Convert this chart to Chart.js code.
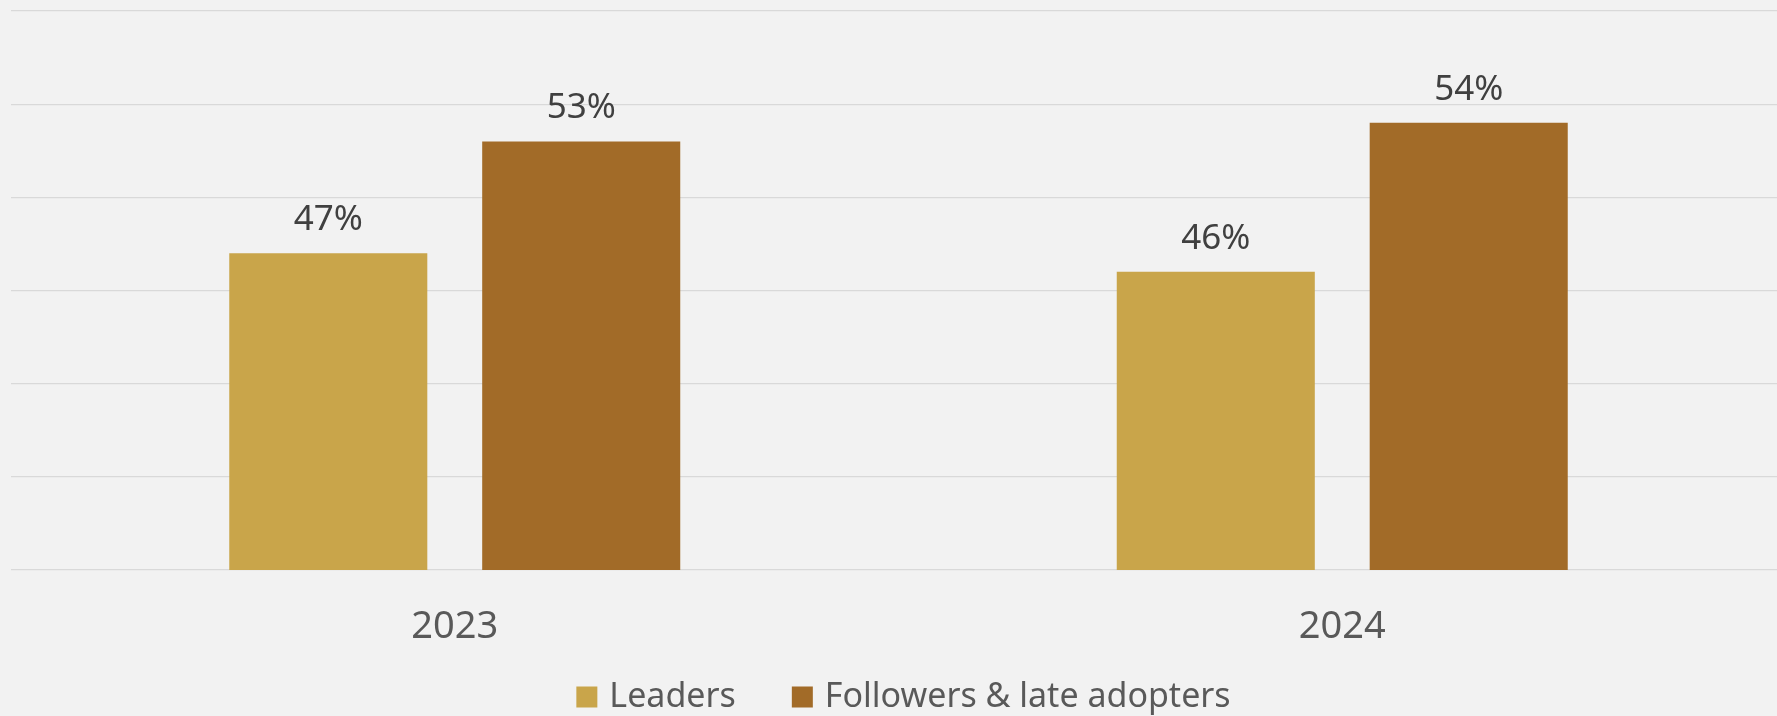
<!DOCTYPE html>
<html>
<head>
<meta charset="utf-8">
<script src="https://cdn.jsdelivr.net/npm/chart.js@4.4.1/dist/chart.umd.min.js"></script>
<style>
    html, body { margin: 0; padding: 0; background: #f2f2f2; overflow: hidden; }
    #wrap { width: 1777px; height: 716px; overflow: hidden; }
    canvas { display: block; }
</style>
</head>
<body>
<div id="wrap">
    <canvas id="adoptionChart" width="1786" height="716"></canvas>
</div>
<script>
// data
const years = ["2023", "2024"];
const leaders = [47, 46];
const followers = [53, 54];
const seriesNames = ["Leaders", "Followers & late adopters"];
const seriesColors = ["#c9a54a", "#a26b28"];
const yTicks = { min: 30, max: 60, step: 5 };

const fontFamily = "'Noto Sans', 'Open Sans', sans-serif";

// label persen di atas bar
const valueLabels = {
    id: "valueLabels",
    afterDatasetsDraw(chart) {
        const ctx = chart.ctx;
        ctx.save();
        ctx.font = "35px " + fontFamily;
        ctx.fillStyle = "#404040";
        ctx.textAlign = "center";
        ctx.textBaseline = "middle";
        chart.data.datasets.forEach((ds, di) => {
            chart.getDatasetMeta(di).data.forEach((bar, i) => {
                ctx.fillText(ds.data[i] + "%", bar.x, bar.y - 33);
            });
        });
        ctx.restore();
    }
};

// legend sendiri supaya jarak antar item bisa diatur
const bottomLegend = {
    id: "bottomLegend",
    afterDraw(chart) {
        const ctx = chart.ctx;
        const box = 21, gapText = 12, gapItem = 56, yMid = 697;
        ctx.save();
        ctx.font = "34px " + fontFamily;
        ctx.textBaseline = "middle";
        ctx.textAlign = "left";
        const items = chart.data.datasets.map((ds) => ({
            text: ds.label,
            color: ds.backgroundColor,
            w: box + gapText + ctx.measureText(ds.label).width,
        }));
        let total = items.reduce((s, it) => s + it.w, 0) + gapItem * (items.length - 1);
        let x = (chart.chartArea.left + chart.chartArea.right) / 2 - total / 2 + 5;
        items.forEach((it) => {
            ctx.fillStyle = it.color;
            ctx.fillRect(x, yMid - box / 2, box, box);
            ctx.fillStyle = "#595959";
            ctx.fillText(it.text, x + box + gapText, yMid);
            x += it.w + gapItem;
        });
        ctx.restore();
    }
};

let ctx = document.getElementById("adoptionChart").getContext("2d");

let adoptionChart = new Chart(ctx, {
    type: "bar",
    data: {
        labels: years,
        datasets: [
            {
                label: seriesNames[0],
                data: leaders,
                backgroundColor: seriesColors[0],
                borderWidth: 0,
            },
            {
                label: seriesNames[1],
                data: followers,
                backgroundColor: seriesColors[1],
                borderWidth: 0,
            },
        ],
    },
    options: {
        responsive: false,
        animation: false,
        layout: {
            padding: { left: 11, top: 11, right: 0, bottom: 0 },
        },
        datasets: {
            bar: {
                barPercentage: 0.783,
                categoryPercentage: 0.57,
            },
        },
        scales: {
            x: {
                grid: { display: false },
                border: { display: false },
                ticks: {
                    color: "#595959",
                    font: { family: fontFamily, size: 38 },
                    padding: 26,
                },
                afterFit(scale) {
                    scale.height = 146;
                },
            },
            y: {
                min: yTicks.min,
                max: yTicks.max,
                ticks: { display: false, stepSize: yTicks.step },
                grid: { color: "#d9d9d9", lineWidth: 1.2, drawTicks: false },
                border: { display: false },
            },
        },
        plugins: {
            legend: { display: false },
            tooltip: { enabled: false },
        },
    },
    plugins: [valueLabels, bottomLegend],
});
</script>
</body>
</html>
